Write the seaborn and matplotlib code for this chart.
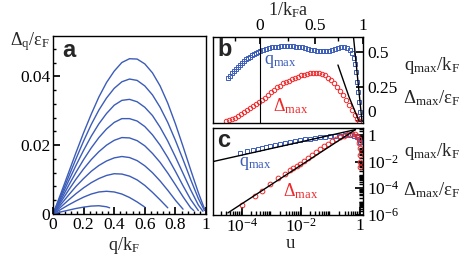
import numpy as np
import pandas as pd
import seaborn as sns
import matplotlib
matplotlib.use("Agg")
import matplotlib.pyplot as plt
from matplotlib.ticker import (AutoMinorLocator, FixedLocator, FixedFormatter,
                               LogLocator, NullFormatter, FuncFormatter)

# ---- panel a: gap Delta_q / eps_F versus q / k_F, nine couplings ----
curve_q = [
    [0, .05, .1, .15, .2, .25, .3, .35, .4, .45, .5, .55, .6, .65, .7, .75, .8, .85, .9, .95, .99],
    [0, .05, .1, .15, .2, .25, .3, .35, .4, .45, .5, .55, .6, .65, .7, .75, .8, .85, .9, .95, .99],
    [0, .05, .1, .15, .2, .25, .3, .35, .4, .45, .5, .55, .6, .65, .7, .75, .8, .85, .9, .95, .98],
    [0, .05, .1, .15, .2, .25, .3, .35, .4, .45, .5, .55, .6, .65, .7, .75, .8, .85, .9, .95],
    [0, .05, .1, .15, .2, .25, .3, .35, .4, .45, .5, .55, .6, .65, .7, .75, .8, .85, .9, .92],
    [0, .05, .1, .15, .2, .25, .3, .35, .4, .45, .5, .55, .6, .65, .7, .75, .8, .85],
    [0, .05, .1, .15, .2, .25, .3, .35, .4, .45, .5, .55, .6, .65, .7, .75],
    [0, .05, .1, .15, .2, .25, .3, .35, .4, .45, .5, .55, .6],
    [0, .05, .1, .15, .2, .25, .3, .35, .37],
]
curve_gap = [
    [0, .0058, .0118, .0178, .0236, .029, .034, .0382, .0415, .0440, .0451, .0450, .0436, .0410,
     .0372, .0322, .0262, .0196, .0128, .0062, .0015],
    [0, .0052, .0106, .016, .0212, .026, .0302, .0337, .0365, .0384, .0392, .0388, .0372, .0346,
     .031, .0266, .0214, .0158, .0100, .0045, .0010],
    [0, .0046, .0094, .0141, .0185, .0226, .0262, .0292, .0316, .0330, .0333, .0326, .0310, .0286,
     .0252, .0212, .0166, .0118, .0070, .0026, .0008],
    [0, .0040, .0081, .0121, .0158, .0192, .0222, .0247, .0266, .0277, .0277, .0270, .0254, .0230,
     .0200, .0164, .0124, .0082, .0042, .0010],
    [0, .0034, .0068, .0101, .0131, .0158, .0181, .0200, .0214, .0222, .0221, .0213, .0198, .0176,
     .0150, .0119, .0085, .0050, .0018, .0010],
    [0, .0027, .0054, .0080, .0103, .0124, .0141, .0154, .0163, .0167, .0164, .0155, .0140, .0120,
     .0096, .0069, .0040, .0014],
    [0, .0020, .0040, .0059, .0076, .0091, .0103, .0112, .0117, .0116, .0110, .0099, .0083, .0063,
     .0041, .0018],
    [0, .0013, .0026, .0038, .0049, .0058, .0064, .0066, .0064, .0058, .0048, .0035, .0020],
    [0, .0006, .0011, .0016, .0020, .0023, .0024, .0021, .0018],
]

# ---- panel b: linear, x is an axis parameter t; top axis marks 1/k_F a ----
b_qmax_t = [0.100, 0.113, 0.127, 0.140, 0.153, 0.167, 0.180, 0.193, 0.207, 0.220, 0.233, 0.247,
            0.260, 0.273, 0.287, 0.300, 0.313, 0.333, 0.353, 0.373, 0.393, 0.413, 0.433, 0.453,
            0.473, 0.493, 0.513, 0.533, 0.553, 0.573, 0.593, 0.613, 0.633, 0.653, 0.673, 0.693,
            0.713, 0.733, 0.753, 0.773, 0.793, 0.813, 0.833, 0.853, 0.873, 0.893, 0.913, 0.927,
            0.940, 0.947, 0.953, 0.960, 0.967, 0.973, 0.980, 0.987]
b_qmax = [0.312, 0.326, 0.348, 0.362, 0.377, 0.391, 0.406, 0.420, 0.435, 0.446, 0.457, 0.464,
          0.475, 0.486, 0.493, 0.500, 0.507, 0.514, 0.522, 0.529, 0.533, 0.536, 0.540, 0.543,
          0.543, 0.543, 0.543, 0.543, 0.540, 0.536, 0.533, 0.529, 0.522, 0.518, 0.514, 0.511,
          0.507, 0.504, 0.504, 0.507, 0.514, 0.522, 0.529, 0.536, 0.536, 0.529, 0.514, 0.493,
          0.457, 0.413, 0.355, 0.283, 0.210, 0.138, 0.065, 0.022]
b_gap_t = [0.087, 0.107, 0.127, 0.147, 0.167, 0.187, 0.207, 0.227, 0.247, 0.267, 0.287, 0.307,
           0.327, 0.347, 0.367, 0.387, 0.407, 0.427, 0.447, 0.467, 0.487, 0.507, 0.527, 0.547,
           0.567, 0.587, 0.607, 0.627, 0.647, 0.667, 0.687, 0.707, 0.727, 0.747, 0.767, 0.787,
           0.807, 0.827, 0.847, 0.867, 0.887, 0.907, 0.927, 0.947, 0.960, 0.973]
b_gap = [0.0, 0.004, 0.014, 0.025, 0.036, 0.051, 0.065, 0.080, 0.094, 0.109, 0.123, 0.138,
         0.152, 0.170, 0.188, 0.207, 0.225, 0.243, 0.257, 0.272, 0.283, 0.293, 0.304, 0.315,
         0.322, 0.330, 0.337, 0.344, 0.348, 0.351, 0.351, 0.348, 0.341, 0.330, 0.315, 0.297,
         0.275, 0.250, 0.221, 0.188, 0.152, 0.116, 0.080, 0.043, 0.018, 0.0]
b_qline_t = [0.930, 0.993]
b_qline = [0.681, 0.0]
b_gapline_t = [0.833, 0.907, 0.973]
b_gapline = [0.406, 0.174, 0.0]
b_unitarity_t = 0.313
inv_kfa_labels = ["0", "0.5", "1"]
inv_kfa_major_t = [0.313, 0.680, 1.0]
inv_kfa_minor_t = [0.147, 0.50, 0.833]

# ---- panel c: log-log versus u ----
c_qmax_u = [8.55e-5, 1.48e-4, 2.36e-4, 3.48e-4, 4.76e-4, 6.52e-4, 8.89e-4, 1.32e-3, 1.94e-3,
            2.87e-3, 4.24e-3, 6.27e-3, 9.25e-3, 1.37e-2, 2.02e-2, 2.99e-2, 4.41e-2, 6.52e-2,
            9.62e-2, 0.142, 0.210, 0.310, 0.458, 0.627, 0.791, 0.925, 1.0]
c_qmax = [0.0465, 0.0653, 0.0774, 0.0918, 0.109, 0.129, 0.141, 0.182, 0.215, 0.255, 0.303,
          0.360, 0.427, 0.465, 0.506, 0.600, 0.653, 0.711, 0.774, 0.843, 0.843, 0.918, 0.918,
          0.843, 0.711, 0.506, 0.303]
c_gap_u = [1.0e-4, 2.76e-4, 4.76e-4, 8.89e-4, 1.66e-3, 2.87e-3, 4.24e-3, 5.36e-3, 7.31e-3,
           9.25e-3, 1.26e-2, 1.73e-2, 2.36e-2, 3.22e-2, 4.41e-2, 6.03e-2, 8.22e-2, 0.112, 0.153,
           0.210, 0.287, 0.392, 0.536, 0.678, 0.791, 0.889, 0.94, 0.96, 0.98, 0.99, 1.0]
c_gap = [5.5e-6, 2.55e-5, 6.0e-5, 1.98e-4, 5.5e-4, 1.09e-3, 2.15e-3, 3.03e-3, 5.06e-3, 7.11e-3,
         1.19e-2, 1.98e-2, 3.30e-2, 5.51e-2, 9.18e-2, 0.141, 0.215, 0.330, 0.465, 0.653, 0.843,
         1.09, 1.19, 1.09, 0.843, 0.506, 0.255, 0.109, 0.033, 0.010, 0.0036]
c_qline_u = [1.05e-5, 0.70]
c_qline = [1.0e-2, 2.5]
c_gapline_u = [3.35e-5, 0.70]
c_gapline = [1.41e-6, 2.5]

BLUE = "#3b5cb8"
RED = "#f0282a"

sns.set_theme(style="ticks")
plt.rcParams["font.family"] = ["Liberation Serif", "DejaVu Serif"]
plt.rcParams["mathtext.fontset"] = "stix"
plt.rcParams["mathtext.default"] = "regular"
plt.rcParams["axes.linewidth"] = 1.0
plt.rcParams["axes.edgecolor"] = "black"
plt.rcParams["xtick.color"] = "black"
plt.rcParams["ytick.color"] = "black"
FS = 12.5

fig = plt.figure(figsize=(4.63, 2.58), dpi=100)
W, H = 463.0, 258.0


def box(l, t, r, b):
    return [l / W, 1 - b / H, (r - l) / W, (b - t) / H]


# ----- panel a -----
ax_a = fig.add_axes(box(53, 36, 206, 214))
rows = []
for k, (qs, gs) in enumerate(zip(curve_q, curve_gap)):
    for qv, gv in zip(qs, gs):
        rows.append({"q": qv, "gap": gv, "curve": k})
df_a = pd.DataFrame(rows)
sns.lineplot(data=df_a, x="q", y="gap", hue="curve", palette=[BLUE] * len(curve_q),
             estimator=None, sort=False, legend=False, lw=1.0, ax=ax_a)
ax_a.set_xlim(0, 1)
ax_a.set_ylim(0, 0.0517)
ax_a.set_xticks([0, 0.2, 0.4, 0.6, 0.8, 1.0])
ax_a.set_yticks([0, 0.02, 0.04])
fmt = FuncFormatter(lambda v, p: "%g" % round(v, 4))
ax_a.xaxis.set_major_formatter(fmt)
ax_a.yaxis.set_major_formatter(fmt)
ax_a.xaxis.set_minor_locator(AutoMinorLocator(5))
ax_a.yaxis.set_minor_locator(AutoMinorLocator(5))
ax_a.tick_params(which="both", direction="in", labelsize=FS, pad=2)
ax_a.tick_params(which="major", length=5)
ax_a.tick_params(which="minor", length=2.5)
ax_a.set_xlabel("")
ax_a.set_ylabel("")
ax_a.text(0.06, 0.92, "a", transform=ax_a.transAxes, family="Liberation Sans",
          fontweight="bold", fontsize=17, va="center", ha="left")
fig.text(30 / W, 1 - 42 / H, r"$\Delta_q/\varepsilon_F$", fontsize=FS + 0.5, ha="center", va="center")
fig.text(124 / W, 1 - 245 / H, r"$q/k_F$", fontsize=FS + 0.5, ha="center", va="center")

# ----- panel b -----
ax_b = fig.add_axes(box(213, 37, 363, 123))
sns.lineplot(x=b_qmax_t, y=b_qmax, marker="s", linestyle="", ms=2.6, mfc="none", mec=BLUE,
             mew=0.7, sort=False, estimator=None, ax=ax_b)
sns.lineplot(x=b_gap_t, y=b_gap, marker="o", linestyle="", ms=3.2, mfc="none", mec=RED,
             mew=0.7, sort=False, estimator=None, ax=ax_b)
sns.lineplot(x=b_qline_t, y=b_qline, color="black", lw=1.0, sort=False, estimator=None, ax=ax_b)
sns.lineplot(x=b_gapline_t, y=b_gapline, color="black", lw=1.0, sort=False, estimator=None, ax=ax_b)
ax_b.axvline(b_unitarity_t, color="black", lw=0.8)
ax_b.set_xlim(0, 1)
ax_b.set_ylim(-0.0145, 0.609)
ax_b.xaxis.set_ticks_position("top")
ax_b.xaxis.set_major_locator(FixedLocator(inv_kfa_major_t))
ax_b.xaxis.set_major_formatter(FixedFormatter(inv_kfa_labels))
ax_b.xaxis.set_minor_locator(FixedLocator(inv_kfa_minor_t))
ax_b.yaxis.set_ticks_position("right")
ax_b.set_yticks([0, 0.25, 0.5])
ax_b.yaxis.set_major_formatter(fmt)
ax_b.tick_params(which="both", direction="in", labelsize=FS, pad=2)
ax_b.tick_params(axis="y", pad=3)
ax_b.tick_params(which="major", length=5)
ax_b.tick_params(which="minor", length=3)
for lab in ax_b.get_yticklabels():
    if lab.get_text() == "0":
        lab.set_va("bottom")
ax_b.set_xlabel("")
ax_b.set_ylabel("")
ax_b.text(0.03, 0.86, "b", transform=ax_b.transAxes, family="Liberation Sans",
          fontweight="bold", fontsize=17, va="center", ha="left")
fig.text(288 / W, 1 - 10 / H, r"$1/k_Fa$", fontsize=FS + 0.5, ha="center", va="center")
fig.text(280 / W, 1 - 62 / H, r"$q_{max}$", fontsize=FS + 0.5, color=BLUE, ha="center", va="center")
fig.text(291 / W, 1 - 106 / H, r"$\Delta_{max}$", fontsize=FS + 0.5, color=RED, ha="center", va="center")
fig.text(432 / W, 1 - 66 / H, r"$q_{max}/k_F$", fontsize=FS + 1, ha="center", va="center")
fig.text(432 / W, 1 - 98 / H, r"$\Delta_{max}/\varepsilon_F$", fontsize=FS + 1, ha="center", va="center")

# ----- panel c -----
ax_c = fig.add_axes(box(213, 128, 363, 215))
sns.lineplot(x=c_qmax_u, y=c_qmax, marker="s", linestyle="", ms=2.6, mfc="none", mec=BLUE,
             mew=0.7, sort=False, estimator=None, ax=ax_c)
sns.lineplot(x=c_gap_u, y=c_gap, marker="o", linestyle="", ms=3.4, mfc="none", mec=RED,
             mew=0.7, sort=False, estimator=None, ax=ax_c)
sns.lineplot(x=c_qline_u, y=c_qline, color="black", lw=1.0, sort=False, estimator=None, ax=ax_c)
sns.lineplot(x=c_gapline_u, y=c_gapline, color="black", lw=1.0, sort=False, estimator=None, ax=ax_c)
ax_c.set_xscale("log")
ax_c.set_yscale("log")
ax_c.set_xlim(1.05e-5, 1.26)
ax_c.set_ylim(0.98e-6, 3.3)
ax_c.xaxis.set_major_locator(FixedLocator([1e-4, 1e-2, 1]))
ax_c.xaxis.set_major_formatter(FixedFormatter([r"$10^{-4}$", r"$10^{-2}$", "1"]))
ax_c.xaxis.set_minor_locator(LogLocator(base=10, subs=np.arange(2, 10), numticks=20))
ax_c.xaxis.set_minor_formatter(NullFormatter())
ax_c.yaxis.set_ticks_position("right")
ax_c.yaxis.set_major_locator(FixedLocator([1e-6, 1e-4, 1e-2, 1]))
ax_c.yaxis.set_major_formatter(FixedFormatter([r"$10^{-6}$", r"$10^{-4}$", r"$10^{-2}$", "1"]))
ax_c.yaxis.set_minor_locator(LogLocator(base=10, subs=np.arange(1, 10), numticks=20))
ax_c.yaxis.set_minor_formatter(NullFormatter())
ax_c.tick_params(which="both", direction="in", labelsize=FS, pad=2)
ax_c.tick_params(axis="y", pad=3)
ax_c.tick_params(which="major", length=6)
ax_c.tick_params(which="minor", length=3)
ax_c.set_xlabel("")
ax_c.set_ylabel("")
ax_c.text(0.03, 0.86, "c", transform=ax_c.transAxes, family="Liberation Sans",
          fontweight="bold", fontsize=17, va="center", ha="left")
fig.text(255 / W, 1 - 164 / H, r"$q_{max}$", fontsize=FS + 0.5, color=BLUE, ha="center", va="center")
fig.text(301 / W, 1 - 191 / H, r"$\Delta_{max}$", fontsize=FS + 0.5, color=RED, ha="center", va="center")
fig.text(432 / W, 1 - 151 / H, r"$q_{max}/k_F$", fontsize=FS + 1, ha="center", va="center")
fig.text(432 / W, 1 - 190 / H, r"$\Delta_{max}/\varepsilon_F$", fontsize=FS + 1, ha="center", va="center")
fig.text(290 / W, 1 - 243 / H, "u", fontsize=FS + 1, ha="center", va="center")

fig.savefig("out.png", dpi=100)
